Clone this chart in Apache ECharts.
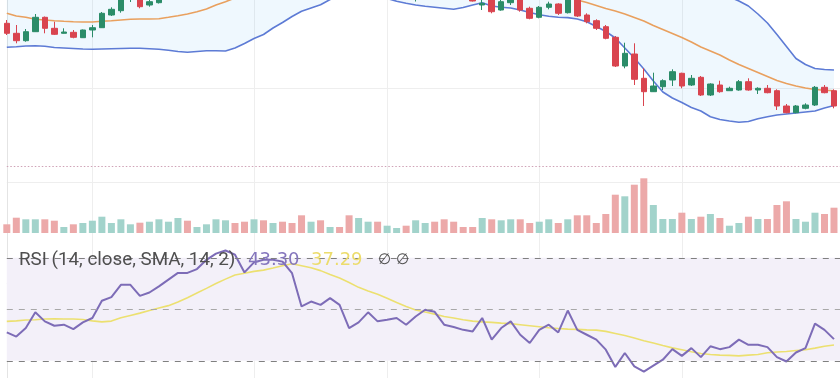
<!DOCTYPE html>
<html>
<head>
<meta charset="utf-8">
<script src="https://cdn.jsdelivr.net/npm/echarts@6/dist/echarts.min.js"></script>
<style>
  html, body { margin: 0; padding: 0; background: #fff; }
  #main { width: 840px; height: 378px; }
</style>
</head>
<body>
<div id="main"></div>
<script>
// candles (price units: 0.1 per pixel)
var opens  = [15.87,14.87,14.13,15.03,16.47,15.37,14.87,14.97,14.43,15.20,15.43,16.70,17.13,18.90,19.60,17.70,17.93,18.70,19.50,20.60,
              20.30,20.80,21.80,22.60,23.20,22.90,21.80,23.00,22.80,23.10,22.90,22.30,20.40,20.70,20.50,20.90,20.50,19.40,19.70,20.20,
              19.80,19.90,20.00,19.30,19.70,20.00,19.90,19.30,19.10,18.60,17.70,18.40,17.20,17.93,18.30,17.37,16.47,17.47,17.80,16.93,
              18.50,16.70,16.13,15.53,14.47,11.60,12.80,10.37,9.03,9.53,10.20,10.87,9.70,10.47,8.70,9.70,9.13,9.20,10.03,9.20,
              9.37,9.13,7.60,6.93,7.37,7.70,9.47,9.13];
var closes = [14.87,14.13,15.03,16.47,15.37,14.77,15.00,14.47,15.20,15.43,16.87,17.27,19.00,19.90,17.53,18.03,18.70,19.50,20.40,20.30,
              20.80,21.80,22.60,23.10,22.90,21.80,22.60,22.80,23.00,22.90,22.30,20.40,20.70,20.50,20.90,20.50,19.40,19.70,20.20,19.80,
              19.90,20.00,19.30,19.70,20.00,19.90,19.30,19.10,18.90,18.10,17.87,17.03,18.03,18.30,17.20,16.37,17.47,17.80,16.87,18.50,
              16.60,16.03,15.37,14.37,11.60,12.87,10.27,9.03,9.60,10.13,11.03,9.60,10.37,8.70,9.80,9.03,9.37,10.03,9.20,9.37,
              8.93,7.60,6.93,7.60,7.70,9.47,8.93,7.60];
var lows   = [14.70,13.87,14.03,15.00,14.87,14.70,14.85,14.37,14.40,14.47,15.40,16.60,16.93,18.00,17.37,17.53,17.85,18.50,19.30,20.00,
              20.10,20.60,21.60,22.40,22.60,21.50,21.60,22.50,22.60,22.60,22.10,20.20,20.20,20.30,20.40,20.40,19.20,19.30,19.60,19.70,
              19.70,19.80,19.20,18.05,19.50,19.60,19.10,18.90,18.70,18.05,17.20,16.87,17.13,17.70,17.03,16.27,16.37,17.27,16.70,16.85,
              16.50,15.87,15.20,14.27,11.50,11.37,9.70,7.60,9.00,9.20,9.60,9.37,9.60,8.60,8.60,8.93,9.13,9.13,9.13,8.80,
              8.87,7.20,6.87,6.87,7.27,7.60,8.87,7.37];
var highs  = [16.20,15.70,15.30,16.80,16.55,16.03,15.37,15.20,15.25,15.70,17.00,17.47,19.20,20.30,19.80,18.30,19.00,19.70,20.60,20.90,
              21.00,22.00,22.80,23.40,23.50,23.00,22.80,23.30,23.30,23.30,23.00,22.40,20.90,20.90,21.10,21.00,20.60,19.90,20.30,20.30,
              20.00,20.10,20.10,19.80,20.20,20.10,20.00,19.40,19.20,18.70,18.20,18.60,18.20,18.40,18.50,17.53,17.60,18.03,17.87,18.70,
              18.60,16.87,16.27,15.70,14.60,13.93,13.87,11.37,10.93,10.27,11.27,10.93,10.70,10.60,9.87,10.13,9.53,10.20,10.37,9.47,
              9.70,9.27,7.80,7.70,7.87,9.60,9.70,9.27];

// Bollinger bands (20, 2)
var upperBand  = [20.2,19.6,19.3,18.9,18.8,18.8,18.7,18.7,18.7,18.7,18.8,19.0,19.1,19.2,19.2,19.3,19.4,19.8,20.2,20.6,
                  21.0,21.5,22.2,23.0,23.4,23.6,23.7,23.8,23.8,23.7,23.5,23.2,23.0,22.9,22.7,22.5,22.2,21.9,21.7,21.5,
                  21.3,21.3,21.3,21.4,21.4,21.4,21.4,21.3,21.2,20.8,20.5,20.7,20.7,20.7,20.8,20.9,21.0,21.0,20.9,20.6,
                  20.2,19.9,19.8,19.7,19.7,19.8,19.8,19.8,19.7,19.6,19.5,19.4,19.3,19.2,19.0,18.8,18.5,18.1,17.6,16.8,
                  15.9,14.75,13.55,12.35,11.75,11.35,11.25,11.2];
var middleBand = [16.87,16.6,16.47,16.27,16.2,16.13,16.07,16.03,16.0,16.0,16.07,16.13,16.2,16.27,16.3,16.3,16.33,16.47,16.63,16.8,
                  17.03,17.3,17.7,18.03,18.4,18.7,19.0,19.3,19.6,19.8,20.0,20.1,20.2,20.3,20.3,20.3,20.2,20.1,20.0,19.9,
                  19.8,19.7,19.6,19.55,19.5,19.45,19.4,19.35,19.3,19.25,19.2,19.15,19.1,19.05,19.0,18.95,18.9,18.8,18.65,18.45,
                  18.2,17.95,17.65,17.35,17.1,16.8,16.45,16.1,15.65,15.25,14.85,14.45,14.0,13.5,13.1,12.7,12.2,11.75,11.35,10.95,
                  10.55,10.15,9.85,9.6,9.4,9.25,9.18,9.13];
var lowerBand  = [13.47,13.53,13.6,13.63,13.58,13.45,13.4,13.35,13.3,13.27,13.3,13.33,13.35,13.37,13.37,13.32,13.27,13.17,13.05,12.97,
                  13.05,13.12,13.12,13.1,13.4,13.85,14.35,14.75,15.4,15.95,16.55,17.07,17.4,17.72,18.25,18.6,18.8,18.9,18.9,18.7,
                  18.35,18.08,17.87,17.7,17.58,17.48,17.38,17.27,17.45,17.7,17.92,17.6,17.48,17.4,17.2,16.95,16.72,16.58,16.48,16.44,
                  16.3,16.03,15.55,15.05,14.4,13.4,12.4,11.3,10.1,9.0,8.4,7.95,7.45,7.1,6.53,6.25,6.1,5.97,6.05,6.32,
                  6.52,6.7,6.8,6.9,7.0,7.1,7.4,7.65];

var volumes = [87,153,137,137,137,123,60,87,100,123,163,100,137,87,103,113,137,113,150,123,60,87,
               137,127,100,113,137,127,100,113,100,177,113,127,60,60,177,150,113,113,73,50,73,127,
               100,113,137,113,60,60,150,137,127,137,137,100,113,137,100,137,177,177,100,190,383,367,
               483,547,280,140,140,203,140,163,190,150,73,100,163,140,140,280,317,140,113,203,190,253];

// RSI (14) and its SMA (14)
var rsi = [41.0,39.4,42.7,48.8,45.3,43.6,44.0,42.3,44.9,46.6,53.3,54.7,59.5,59.5,55.2,56.5,58.9,61.5,64.1,64.1,
           65.6,69.2,71.6,72.8,71.2,64.3,68.2,69.2,69.2,68.5,64.0,51.1,53.0,51.7,54.3,51.7,42.7,44.9,48.8,45.3,
           45.9,46.6,44.0,47.2,49.8,49.0,44.0,43.1,42.0,41.4,46.6,38.2,42.7,45.3,40.1,36.9,42.0,44.0,41.0,49.5,
           42.0,40.1,38.2,34.3,27.6,33.0,27.8,25.8,28.1,30.4,34.5,31.9,34.9,31.4,35.6,34.5,35.3,38.2,36.2,36.2,
           35.3,31.4,29.7,33.2,34.9,44.4,42.0,38.4];
var rsiSma = [45.3,45.5,45.8,45.9,46.2,46.3,46.2,46.2,46.0,45.5,45.1,45.4,46.7,47.6,48.5,49.5,50.5,51.4,52.8,54.5,
              56.3,58.1,60.0,61.7,63.3,64.0,64.7,65.2,66.0,66.9,67.7,66.9,66.1,65.0,63.5,62.1,60.4,58.5,57.1,55.8,
              54.3,52.6,51.1,49.7,48.9,48.1,47.2,46.6,45.9,45.4,45.1,44.9,44.6,44.4,44.0,43.6,43.2,42.8,42.5,42.3,
              42.2,42.0,41.9,41.4,40.6,39.8,38.8,37.8,36.9,35.9,35.0,34.3,33.5,32.8,32.4,32.2,32.1,31.9,32.2,32.4,
              33.1,33.4,33.6,34.0,34.3,34.9,35.6,36.1];

var priceLine = 1.6;          // dotted horizontal line
var rsiLevels = [70, 50, 30];
var timeMarks = [9, 26, 40, 56, 71];   // vertical grid lines

// one spare slot on the right so the last candle is not cut in half
var days = [];
for (var i = 0; i <= opens.length; i++) days.push('d' + (i + 1));

var candles = opens.map(function (o, i) { return [o, closes[i], lows[i], highs[i]]; });
var volBars = volumes.map(function (v, i) {
    return { value: v, itemStyle: { color: closes[i] >= opens[i] ? '#a2d3cb' : '#eca9a9' } };
});
var bandWidth = upperBand.map(function (u, i) { return +(u - lowerBand[i]).toFixed(2); });

var gridCol = '#eeeeee';

function xAx(gi) {
    return {
        type: 'category', gridIndex: gi, data: days, boundaryGap: false,
        axisLine: { show: false }, axisTick: { show: false }, axisLabel: { show: false },
        splitLine: { show: true, interval: function (idx) { return timeMarks.indexOf(idx) >= 0; },
                     lineStyle: { color: gridCol, width: 1 } }
    };
}

// legend line of the RSI pane, piece by piece
function legendText(txt, x, color, size, font) {
    return {
        left: x, top: 249, padding: 0, text: txt,
        textStyle: { color: color, fontSize: size, fontFamily: font, fontWeight: 'normal', lineHeight: 22 }
    };
}

var option = {
    animation: false,
    backgroundColor: '#ffffff',
    title: [
        legendText('RSI (14, close, SMA, 14, 2)', 19, '#4f4f4f', 18.8, 'Roboto'),
        legendText('43.30', 248, '#8576bd', 18, 'DejaVu Sans'),
        legendText('37.29', 311, '#ecdc6c', 18, 'DejaVu Sans'),
        legendText('∅', 378, '#4f4f4f', 15, 'DejaVu Sans'),
        legendText('∅', 396, '#4f4f4f', 15, 'DejaVu Sans')
    ],
    grid: [
        { left: 6.8, right: -3.5, top: -6, height: 188, outerBoundsMode: 'none' },
        { left: 6.8, right: -3.5, top: 173, height: 60, outerBoundsMode: 'none' },
        { left: 6.8, right: -3.5, top: 232, height: 154.5, outerBoundsMode: 'none' }
    ],
    xAxis: [xAx(0), xAx(1), xAx(2)],
    yAxis: [
        { gridIndex: 0, min: 0, max: 18.8, interval: 9.4, axisLabel: { show: false }, axisTick: { show: false },
          axisLine: { show: true, lineStyle: { color: '#e4e4e4' } },
          splitLine: { lineStyle: { color: gridCol } } },
        { gridIndex: 1, min: 0, max: 600, axisLabel: { show: false }, axisTick: { show: false },
          axisLine: { show: true, lineStyle: { color: '#e4e4e4' } }, splitLine: { show: false } },
        { gridIndex: 2, min: 20, max: 80, interval: 20, axisLabel: { show: false }, axisTick: { show: false },
          axisLine: { show: true, lineStyle: { color: '#e4e4e4' } },
          splitLine: { showMinLine: false, showMaxLine: false, lineStyle: { color: gridCol } } }
    ],
    series: [
        { type: 'line', data: lowerBand, stack: 'bb', symbol: 'none', silent: true,
          lineStyle: { opacity: 0 }, z: 1 },
        { type: 'line', data: bandWidth, stack: 'bb', symbol: 'none', silent: true,
          lineStyle: { opacity: 0 }, areaStyle: { color: 'rgba(33,150,243,0.07)', opacity: 1 }, z: 1 },
        { name: 'upper', type: 'line', data: upperBand, symbol: 'none', z: 2,
          lineStyle: { color: '#5d7bd5', width: 1.6 } },
        { name: 'lower', type: 'line', data: lowerBand, symbol: 'none', z: 2,
          lineStyle: { color: '#5d7bd5', width: 1.6 } },
        { name: 'basis', type: 'line', data: middleBand, symbol: 'none', z: 2,
          lineStyle: { color: '#e9a05e', width: 1.6 } },
        { name: 'price', type: 'candlestick', data: candles, barWidth: 6, z: 3,
          itemStyle: { color: '#2b8c68', color0: '#d9444f', borderColor: '#2b8c68', borderColor0: '#d9444f', borderWidth: 1 },
          markLine: { silent: true, symbol: 'none', label: { show: false },
                      lineStyle: { color: '#cfa2b6', type: [1.5, 2], width: 1 },
                      data: [{ yAxis: priceLine }] } },
        { name: 'volume', type: 'bar', xAxisIndex: 1, yAxisIndex: 1, data: volBars, barWidth: 7, z: 1 },
        { name: 'RSI', type: 'line', xAxisIndex: 2, yAxisIndex: 2, data: rsi, symbol: 'none', z: 3,
          lineStyle: { color: '#7d6cb7', width: 2 },
          markArea: { silent: true, itemStyle: { color: '#f3f0f9' },
                      data: [[{ yAxis: rsiLevels[2] }, { yAxis: rsiLevels[0] }]] },
          markLine: { silent: true, symbol: 'none', label: { show: false },
                      data: rsiLevels.map(function (l) {
                          return { yAxis: l, lineStyle: { color: l === 50 ? '#a8a8a8' : '#808080', type: [6, 6], width: 1 } };
                      }) } },
        { name: 'RSI SMA', type: 'line', xAxisIndex: 2, yAxisIndex: 2, data: rsiSma, symbol: 'none', z: 2,
          lineStyle: { color: '#ece070', width: 1.6 } }
    ]
};

var myChart = echarts.init(document.getElementById('main'));
myChart.setOption(option);
</script>
</body>
</html>
